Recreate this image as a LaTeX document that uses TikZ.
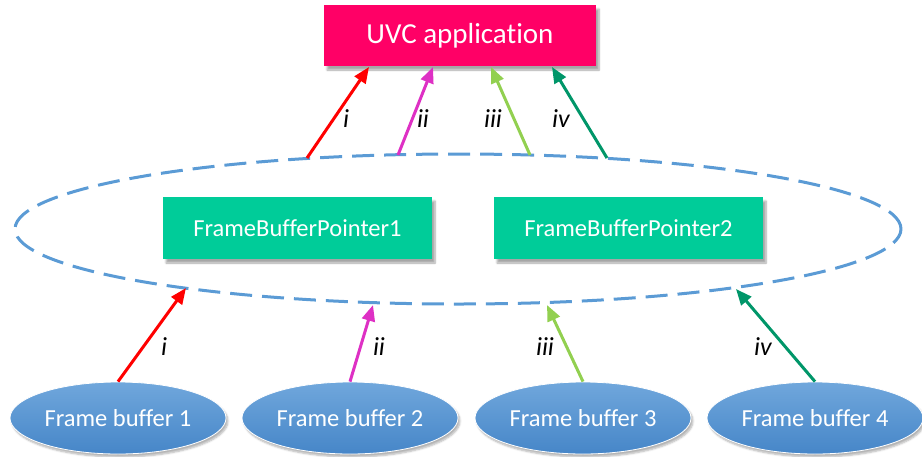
\documentclass[tikz,border=0pt]{standalone}
\usepackage{fontspec}
\setmainfont{Carlito}[RawFeature={-liga;-dlig;-clig}]
\usetikzlibrary{shapes.geometric,arrows.meta,shadows.blur}
\definecolor{uvc}{RGB}{255,0,102}
\definecolor{fbp}{RGB}{0,204,153}
\definecolor{ringblue}{RGB}{91,155,213}
\definecolor{fbtop}{RGB}{112,167,220}
\definecolor{fbbot}{RGB}{70,134,200}
\definecolor{cred}{RGB}{255,0,0}
\definecolor{cmag}{RGB}{222,48,196}
\definecolor{clime}{RGB}{146,208,80}
\definecolor{cteal}{RGB}{0,150,105}
\tikzset{
  boxshadow/.style={blur shadow={shadow xshift=3pt,shadow yshift=-4pt,shadow blur steps=6,shadow opacity=35}},
  uvcbox/.style={fill=uvc,text=white,minimum width=272pt,minimum height=61pt,inner sep=0pt,boxshadow,font=\fontsize{29}{34}\selectfont},
  fbpbox/.style={fill=fbp,text=white,minimum width=269pt,minimum height=62pt,inner sep=0pt,boxshadow,font=\fontsize{24.5}{29}\selectfont},
  ring/.style={ellipse,draw=ringblue,line width=3pt,dash pattern=on 22pt off 10pt,minimum width=886pt,minimum height=150pt,inner sep=0pt},
  fbell/.style={ellipse,top color=fbtop,bottom color=fbbot,draw=white,line width=0.8pt,text=white,minimum width=216pt,minimum height=72pt,inner sep=0pt,blur shadow={shadow xshift=2pt,shadow yshift=-3pt,shadow blur steps=5,shadow opacity=30},font=\fontsize{24.5}{29}\selectfont},
  link/.style={line width=3pt,-{Triangle[length=16pt,width=13pt]}},
  lab/.style={font=\fontsize{26}{30}\selectfont\itshape,text=black,inner sep=0pt}
}
\begin{document}
\begin{tikzpicture}[x=1pt,y=-1pt]
\useasboundingbox (0,0) rectangle (922,456);
\node[uvcbox] (uvc) at (460,35.5) {UVC application};
\node[ring] (ring) at (458,229) {};
\node[fbpbox] (fbp1) at (297.5,228) {FrameBufferPointer1};
\node[fbpbox] (fbp2) at (628.5,228) {FrameBufferPointer2};
\node[fbell] (fb1) at (118,418) {Frame buffer 1};
\node[fbell] (fb2) at (350,418) {Frame buffer 2};
\node[fbell] (fb3) at (583,418) {Frame buffer 3};
\node[fbell] (fb4) at (815,418) {Frame buffer 4};
% points on the dashed ring
\coordinate (r1) at (186,288);
\coordinate (r2) at (373,305);
\coordinate (r3) at (547,305);
\coordinate (r4) at (736,289);
\coordinate (t1) at (307,158);
\coordinate (t2) at (398,155);
\coordinate (t3) at (530,155);
\coordinate (t4) at (607,158);
% targets on the UVC box
\coordinate (u1) at (369,67);
\coordinate (u2) at (433,67);
\coordinate (u3) at (491,67);
\coordinate (u4) at (552,67);
% lower arrows
\draw[link,cred] (fb1.north) -- (r1);
\draw[link,cmag] (fb2.north) -- (r2);
\draw[link,clime] (fb3.north) -- (r3);
\draw[link,cteal] (fb4.north) -- (r4);
% upper arrows
\draw[link,cred] (t1) -- (u1);
\draw[link,cmag] (t2) -- (u2);
\draw[link,clime] (t3) -- (u3);
\draw[link,cteal] (t4) -- (u4);
% labels
\node[lab] (l1) at (164,347) {i};
\node[lab] (l2) at (379,347) {ii};
\node[lab] (l3) at (545,347) {iii};
\node[lab] (l4) at (763,347) {iv};
\node[lab] (m1) at (346,119) {i};
\node[lab] (m2) at (423,119) {ii};
\node[lab] (m3) at (493,119) {iii};
\node[lab] (m4) at (561,119) {iv};
\end{tikzpicture}
\end{document}
